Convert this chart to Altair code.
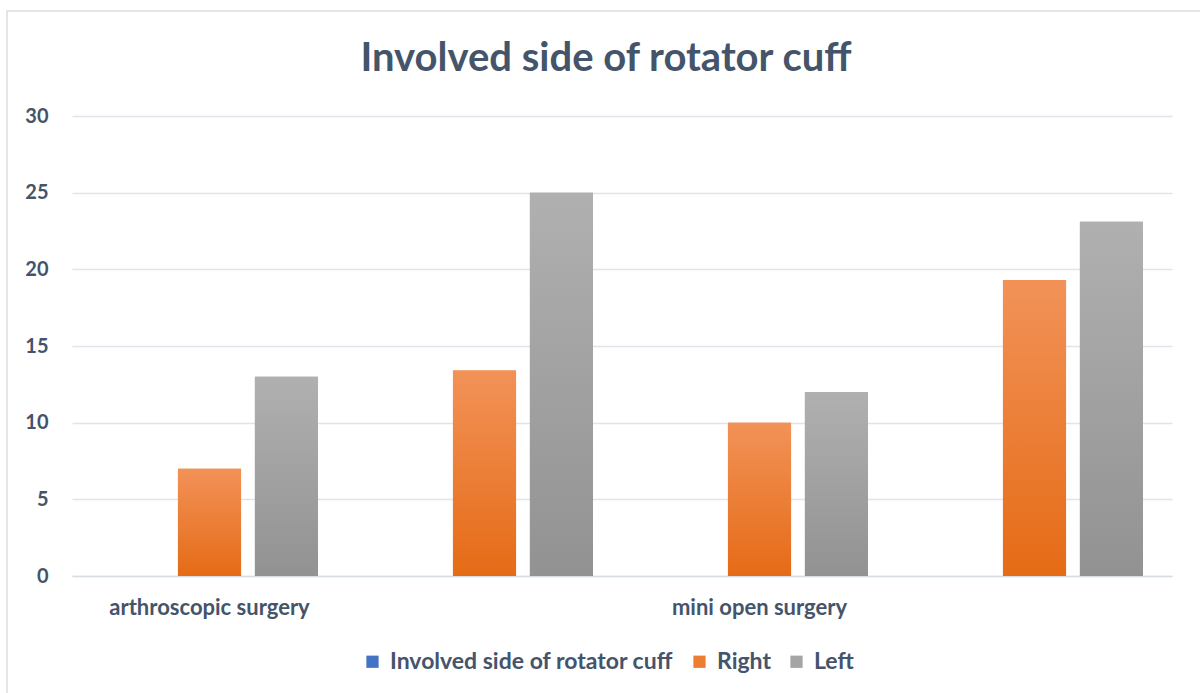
import altair as alt
import pandas as pd

# ---- data ----
group_keys = ["arthroscopic surgery", "arthroscopic surgery (2)", "mini open surgery", "mini open surgery (2)"]
series = ["Involved side of rotator cuff", "Right", "Left"]
involved = [0, 0, 0, 0]
right = [7, 13.4, 10, 19.3]
left = [13, 25, 12, 23.1]
y_ticks = [0, 5, 10, 15, 20, 25, 30]

rows = []
for i, g in enumerate(group_keys):
    for s, vals in zip(series, [involved, right, left]):
        rows.append({"group": g, "series": s, "value": vals[i]})
df = pd.DataFrame(rows)

FONT = "Lato"
TXT = "#44546A"
GRID = "#E1E4EA"

flat_colors = ["#4472C4", "#ED7D31", "#A5A5A5"]
gradients = {
    "Involved side of rotator cuff": ("#5B86D3", "#3A63AE"),
    "Right": ("#F29258", "#E56B16"),
    "Left": ("#B0B0B0", "#929292"),
}

x_enc = alt.X(
    "group:N",
    scale=alt.Scale(domain=group_keys, paddingInner=0, paddingOuter=0),
    axis=alt.Axis(
        title=None,
        labelExpr="indexof(datum.label, '(2)') >= 0 ? '' : datum.label",
        labelAngle=0,
        labelFont=FONT,
        labelFontSize=22,
        labelFontWeight="bold",
        labelColor=TXT,
        labelPadding=21,
        labelLimit=400,
        ticks=False,
        domain=True,
        domainColor="#D9DDE4",
        domainWidth=1.5,
        grid=False,
    ),
)
xoff_enc = alt.XOffset(
    "series:N",
    scale=alt.Scale(domain=series, paddingInner=0.18, paddingOuter=0.377),
)
y_enc = alt.Y(
    "value:Q",
    scale=alt.Scale(domain=[0, 30], nice=False),
    axis=alt.Axis(
        title=None,
        values=y_ticks,
        labelFont=FONT,
        labelFontSize=20,
        labelFontWeight="bold",
        labelColor=TXT,
        labelPadding=24,
        ticks=False,
        domain=False,
        gridColor=GRID,
        gridWidth=1.5,
    ),
)

base = alt.Chart(df).mark_bar().encode(
    x=x_enc,
    xOffset=xoff_enc,
    y=y_enc,
    color=alt.Color(
        "series:N",
        scale=alt.Scale(domain=series, range=flat_colors),
        legend=alt.Legend(
            title=None,
            orient="none",
            direction="horizontal",
            legendX=289,
            legendY=534,
            symbolType="square",
            symbolSize=150,
            symbolStrokeWidth=0,
            labelFont=FONT,
            labelFontSize=23,
            labelFontWeight="bold",
            labelColor=TXT,
            labelLimit=500,
            columnPadding=14,
            labelOffset=6,
        ),
    ),
)

layers = [base]
for s in series:
    top, bottom = gradients[s]
    layers.append(
        alt.Chart(df)
        .transform_filter(alt.datum.series == s)
        .mark_bar(
            color=alt.Gradient(
                gradient="linear",
                x1=0, x2=0, y1=0, y2=1,
                stops=[
                    alt.GradientStop(color=top, offset=0),
                    alt.GradientStop(color=bottom, offset=1),
                ],
            )
        )
        .encode(x=x_enc, xOffset=xoff_enc, y=y_enc)
    )

frame = alt.Chart(alt.Data(values=[{}])).mark_rect(
    filled=False, stroke="#D9DDE4", strokeWidth=1.5
).encode(
    x=alt.value(-65), x2=alt.value(1140), y=alt.value(-105), y2=alt.value(590)
)
layers.append(frame)

chart = alt.layer(*layers).properties(
    width=1100,
    height=460,
    background="white",
    autosize=alt.AutoSizeParams(type="none"),
    padding={"left": 72, "top": 116, "right": 28, "bottom": 117},
    title=alt.TitleParams(
        text="Involved side of rotator cuff",
        font=FONT,
        fontSize=40,
        fontWeight="bold",
        color=TXT,
        anchor="middle",
        frame="group",
        offset=0,
        dy=69,
        dx=-16,
    ),
).configure_view(stroke="transparent", strokeWidth=0)

chart.save("out.html", embed_options={"renderer": "svg", "actions": False})
